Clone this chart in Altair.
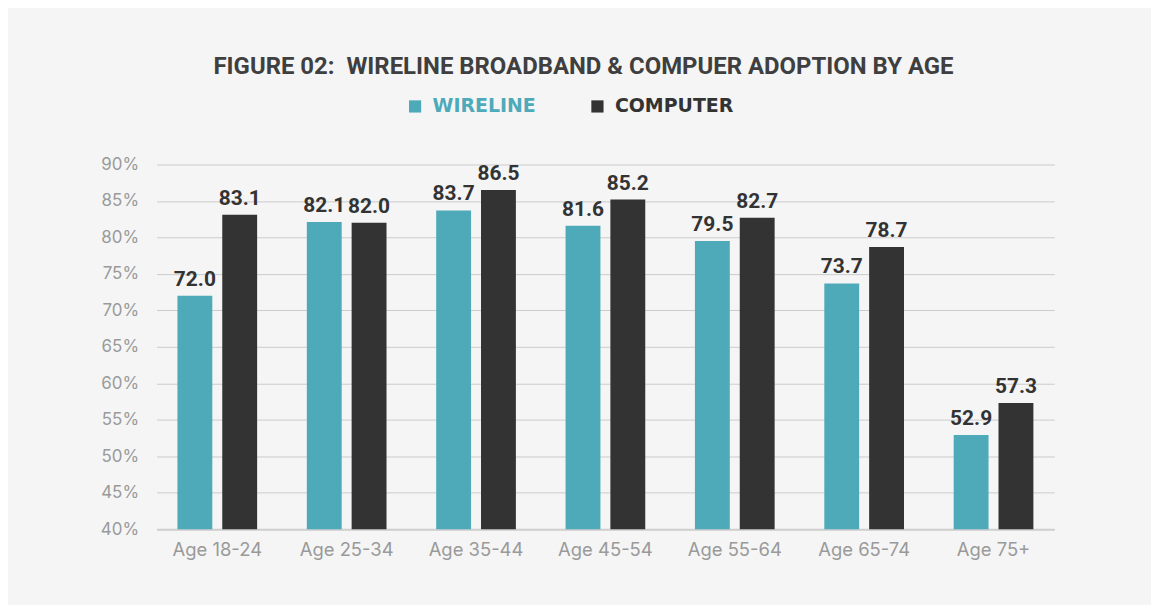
import altair as alt
import pandas as pd

ages = ["Age 18-24", "Age 25-34", "Age 35-44", "Age 45-54", "Age 55-64", "Age 65-74", "Age 75+"]
wireline = [72.0, 82.1, 83.7, 81.6, 79.5, 73.7, 52.9]
computer = [83.1, 82.0, 86.5, 85.2, 82.7, 78.7, 57.3]
series = ["WIRELINE", "COMPUTER"]
colors = ["#4eaab9", "#333333"]
y_ticks = [40, 45, 50, 55, 60, 65, 70, 75, 80, 85, 90]

rows = []
for a, w, c in zip(ages, wireline, computer):
    rows.append({"age": a, "series": "WIRELINE", "value": w})
    rows.append({"age": a, "series": "COMPUTER", "value": c})
df = pd.DataFrame(rows)

x_enc = alt.X(
    "age:N", sort=ages, title=None,
    scale=alt.Scale(paddingInner=0.384, paddingOuter=0.162),
    axis=alt.Axis(labelAngle=0, labelColor="#9a9a9a", labelFont="Inter", labelFontSize=18.5,
                  labelPadding=11, ticks=False, domainColor="#cfcfcf", domainWidth=2, grid=False),
)
y_axis = alt.Axis(values=y_ticks, labelExpr="datum.value + '%'", labelColor="#9a9a9a",
                  labelFont="Inter", labelFontSize=17, labelPadding=18, ticks=False, domain=False,
                  gridColor="#cccccc", gridWidth=1, labelOverlap=False, tickCount=20)
y_scale = alt.Scale(domain=[40, 90], zero=False, clamp=True, nice=False)
xoff = alt.XOffset("series:N", sort=series, scale=alt.Scale(paddingInner=0.222, paddingOuter=0))

base = alt.Chart(df).encode(x=x_enc, xOffset=xoff)

bars = base.mark_bar().encode(
    y=alt.Y("value:Q", title=None, scale=y_scale, axis=y_axis),
    color=alt.Color(
        "series:N", sort=series,
        scale=alt.Scale(domain=series, range=colors),
        legend=alt.Legend(
            title=None, orient="none", direction="horizontal", legendX=250, legendY=-68,
            symbolType="square", symbolSize=150, symbolStrokeWidth=0, symbolOpacity=1,
            labelFont="DejaVu Sans", labelFontSize=19, labelFontWeight="bold",
            labelColor={"expr": "datum.label == 'WIRELINE' ? '#4eaab9' : '#333333'"},
            columnPadding=52, padding=0, offset=0, labelOffset=8,
        ),
    ),
)

labels = base.mark_text(
    dy=-10, font="Roboto", fontSize=21, fontWeight="bold", color="#333333", baseline="alphabetic"
).encode(
    y=alt.Y("value:Q", title=None, scale=y_scale, axis=y_axis),
    text=alt.Text("value:Q", format=".1f"),
)

chart = (
    alt.layer(bars, labels)
    .properties(
        width=901, height=366,
        autosize=alt.AutoSizeParams(type="none"),
        padding={"left": 149, "top": 156, "right": 97, "bottom": 75},
        background="#f5f5f5",
        title=alt.Title(
            "FIGURE 02:\u00a0 WIRELINE BROADBAND & COMPUER ADOPTION BY AGE",
            font="Roboto", fontSize=24, fontWeight="bold", color="#3f3f3f",
            anchor="middle", offset=18, dx=-22,
        ),
    )
    .configure_view(stroke=None)
)

chart.save("out.html", embed_options={"renderer": "svg", "actions": False})
